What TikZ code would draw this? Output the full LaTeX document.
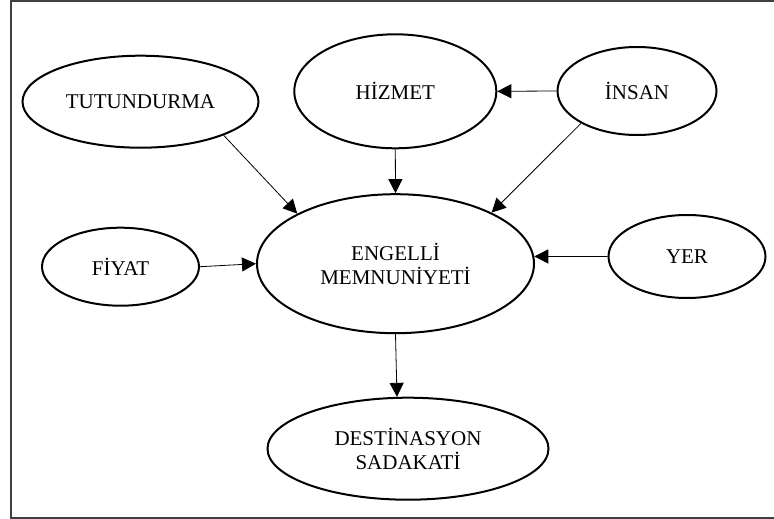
\documentclass[tikz,border=0pt]{standalone}
\usepackage{fontspec}
\setmainfont{Liberation Serif}
\usetikzlibrary{shapes.geometric,arrows.meta}
\begin{document}
\begin{tikzpicture}[x=1pt,y=-1pt,
  oval/.style={ellipse,draw,line width=2pt,inner sep=0pt,align=center,font=\fontsize{21}{24}\selectfont},
  conn/.style={line width=0.8pt,-{Triangle[length=14pt,width=14pt]}},
  frame/.style={draw=black!75,line width=1.5pt}]
\useasboundingbox (0,0) rectangle (774,519);
\coordinate (ftr) at (774,1);
\coordinate (ftl) at (11,1);
\coordinate (fbl) at (11,518);
\coordinate (fbr) at (774,518);
\draw[frame] (ftr) -- (ftl) -- (fbl) -- (fbr);
\node[oval,minimum width=236pt,minimum height=92pt] (tut) at (140.5,101.7) {TUTUNDURMA};
\node[oval,minimum width=202pt,minimum height=114pt] (hiz) at (395.3,91.3) {HİZMET};
\node[oval,minimum width=159pt,minimum height=88pt] (ins) at (637,91) {İNSAN};
\node[oval,minimum width=157pt,minimum height=83pt] (yer) at (687,256.5) {YER};
\node[oval,minimum width=157pt,minimum height=78pt] (fiy) at (120.5,266.7) {FİYAT};
\node[oval,minimum width=277pt,minimum height=139pt] (eng) at (395.5,263.7) {ENGELLİ\\MEMNUNİYETİ};
\node[oval,minimum width=281pt,minimum height=102pt] (des) at (408,448.7) {DESTİNASYON\\SADAKATİ};
\draw[conn] (tut.-22) -- (eng.153);
\draw[conn] (hiz.south) -- (eng.north);
\draw[conn] (ins.west) -- (hiz.east);
\draw[conn] (ins.210) -- (eng.28);
\draw[conn] (fiy.east) -- (eng.west);
\draw[conn] (yer.west) -- (eng.3);
\draw[conn] (eng.south) -- (des.102);
\end{tikzpicture}
\end{document}
